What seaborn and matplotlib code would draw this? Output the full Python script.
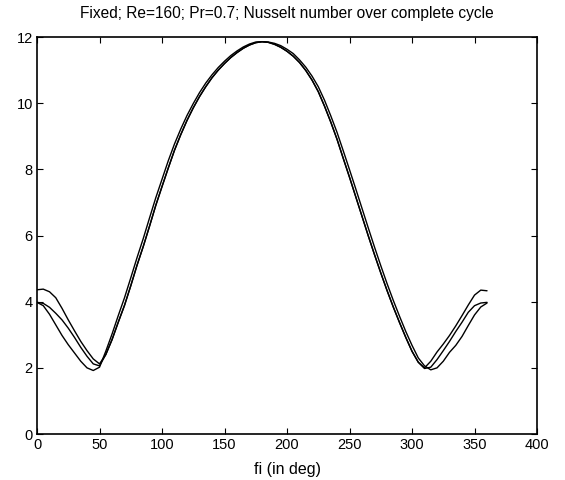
import numpy as np
import pandas as pd
import seaborn as sns
import matplotlib
matplotlib.use("Agg")
import matplotlib.pyplot as plt

sns.set_style("ticks")
plt.rcParams["font.family"] = ["Liberation Sans", "DejaVu Sans"]
plt.rcParams["xtick.direction"] = "in"
plt.rcParams["ytick.direction"] = "in"
plt.rcParams["xtick.top"] = True
plt.rcParams["ytick.right"] = True
plt.rcParams["axes.edgecolor"] = "black"
plt.rcParams["xtick.color"] = "black"
plt.rcParams["ytick.color"] = "black"
plt.rcParams["text.color"] = "black"
plt.rcParams["axes.labelcolor"] = "black"

# crank angle, 5 degree steps over one cycle
fi = np.arange(0, 365, 5)

# Nusselt number, three successive cycles
nu_cycle1 = [4.36, 4.38, 4.30, 4.12, 3.80, 3.45, 3.12, 2.80, 2.52, 2.27, 2.12,
             2.40, 2.85, 3.38, 3.89, 4.48, 5.10, 5.67, 6.28, 6.91, 7.48, 8.04,
             8.58, 9.05, 9.48, 9.86, 10.20, 10.50, 10.77, 11.00, 11.20, 11.38,
             11.53, 11.66, 11.76, 11.83, 11.86,
             11.84, 11.78, 11.69, 11.57, 11.42, 11.23, 10.99, 10.70, 10.35, 9.91,
             9.43, 8.91, 8.33, 7.76, 7.17, 6.58, 5.99, 5.42, 4.87, 4.34, 3.84,
             3.37, 2.92, 2.50, 2.17, 2.00,
             2.20, 2.48, 2.72, 2.98, 3.27, 3.58, 3.90, 4.20, 4.35, 4.33]
nu_cycle2 = [3.98, 3.95, 3.83, 3.65, 3.45, 3.20, 2.92, 2.62, 2.35, 2.12, 2.06,
             2.40, 2.85, 3.38, 3.89, 4.48, 5.10, 5.67, 6.28, 6.91, 7.48, 8.04,
             8.58, 9.05, 9.48, 9.86, 10.20, 10.50, 10.77, 11.00, 11.20, 11.38,
             11.53, 11.66, 11.76, 11.83, 11.86,
             11.84, 11.78, 11.69, 11.57, 11.42, 11.23, 10.99, 10.70, 10.35, 9.91,
             9.43, 8.91, 8.33, 7.76, 7.17, 6.58, 5.99, 5.42, 4.87, 4.34, 3.84,
             3.37, 2.92, 2.50, 2.17, 1.98,
             2.02, 2.25, 2.52, 2.80, 3.10, 3.38, 3.68, 3.88, 3.96, 3.98]
nu_cycle3 = [3.98, 3.88, 3.62, 3.30, 2.98, 2.70, 2.45, 2.20, 2.00, 1.92, 2.02,
             2.50, 3.02, 3.58, 4.12, 4.72, 5.33, 5.91, 6.53, 7.14, 7.70, 8.26,
             8.77, 9.22, 9.63, 9.99, 10.32, 10.61, 10.86, 11.08, 11.27, 11.44,
             11.58, 11.70, 11.79, 11.85, 11.86,
             11.85, 11.81, 11.74, 11.63, 11.50, 11.31, 11.09, 10.82, 10.50, 10.09,
             9.62, 9.12, 8.56, 7.99, 7.41, 6.82, 6.23, 5.65, 5.09, 4.55, 4.04,
             3.56, 3.10, 2.68, 2.30, 2.06,
             1.94, 2.00, 2.20, 2.47, 2.68, 2.95, 3.28, 3.60, 3.84, 3.96]

df = pd.concat([
    pd.DataFrame({"fi": fi, "Nu": nu_cycle1, "cycle": 1}),
    pd.DataFrame({"fi": fi, "Nu": nu_cycle2, "cycle": 2}),
    pd.DataFrame({"fi": fi, "Nu": nu_cycle3, "cycle": 3}),
])

fig = plt.figure(figsize=(5.65, 4.8), dpi=100)
ax = fig.add_axes([0.0655, 0.0958, 0.885, 0.827])
sns.lineplot(data=df, x="fi", y="Nu", units="cycle", estimator=None,
             color="black", linewidth=1.0, ax=ax)

ax.set_xlim(0, 400)
ax.set_ylim(0, 12)
ax.set_xticks(range(0, 401, 50))
ax.set_yticks(range(0, 13, 2))
ax.tick_params(labelsize=10.5, length=4, width=0.8, pad=3)
for s in ax.spines.values():
    s.set_linewidth(1.2)
ax.set_xlabel("fi (in deg)", fontsize=11.5, labelpad=7)
ax.set_ylabel("")
ax.set_title("Fixed; Re=160; Pr=0.7; Nusselt number over complete cycle",
             fontsize=11.2, pad=14)

fig.savefig("out.png", dpi=100)
